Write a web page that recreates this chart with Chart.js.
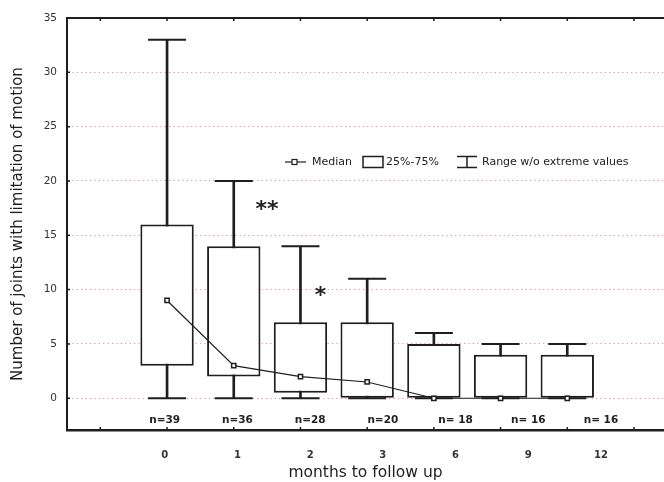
<!DOCTYPE html>
<html>
<head>
<meta charset="utf-8">
<script src="https://cdn.jsdelivr.net/npm/chart.js@4/dist/chart.umd.min.js"></script>
<style>
  html, body { margin: 0; padding: 0; background: #fff; overflow: hidden; }
  #wrap { width: 664px; height: 482px; }
</style>
</head>
<body>
<div id="wrap"><canvas id="box" width="664" height="482"></canvas></div>
<script>
"use strict";

// months of follow-up and the box statistics
const MONTHS = ["0", "1", "2", "3", "6", "9", "12"];
const N_LABELS = ["n=39", "n=36", "n=28", "n=20", "n= 18", "n= 16", "n= 16"];
const MEDIAN = [9, 3, 2, 1.5, 0, 0, 0];
const Q1 = [3, 2, 0.5, 0, 0, 0, 0];
const Q3 = [16, 14, 7, 7, 5, 4, 4];
const WHISK_MIN = [0, 0, 0, 0, 0, 0, 0];
const WHISK_MAX = [33, 20, 14, 11, 6, 5, 5];
const Y_TICKS = [0, 5, 10, 15, 20, 25, 30, 35];
// significance marks: between-visit position and height on the y scale
const SIG_MARKS = [
  { x: 1.5, y: 17.3, text: "**" },
  { x: 2.3, y: 9.4, text: "*" },
];

const FONT = "'DejaVu Sans', sans-serif";
const INK = "#1e1e1e";

const pts = arr => arr.map((v, i) => ({ x: i, y: v }));

const frame = {
  id: "frame",
  afterDraw(chart) {
    const { ctx, chartArea: a, scales } = chart;
    const x = scales.x, y = scales.y, xl = scales.xl;
    ctx.save();
    ctx.strokeStyle = INK;
    ctx.lineWidth = 2;
    // top border
    ctx.beginPath();
    ctx.moveTo(a.left, a.top);
    ctx.lineTo(a.right, a.top);
    ctx.stroke();
    // inward ticks
    ctx.lineWidth = 1.5;
    ctx.beginPath();
    for (let i = -1; i <= 7; i++) {
      const px = x.getPixelForValue(i);
      if (px <= a.left + 2 || px >= a.right) continue;
      ctx.moveTo(px, a.top); ctx.lineTo(px, a.top + 3);
      ctx.moveTo(px, a.bottom); ctx.lineTo(px, a.bottom - 3);
    }
    Y_TICKS.forEach(v => {
      const py = y.getPixelForValue(v);
      ctx.moveTo(a.left, py); ctx.lineTo(a.left + 3, py);
    });
    ctx.stroke();

    // n= labels
    ctx.fillStyle = "#222";
    ctx.font = "bold 10.5px " + FONT;
    ctx.textAlign = "center";
    ctx.textBaseline = "middle";
    N_LABELS.forEach((t, i) => ctx.fillText(t, xl.getPixelForValue(i), a.bottom - 10));

    // significance stars
    ctx.font = "bold 22px " + FONT;
    SIG_MARKS.forEach(m => ctx.fillText(m.text, x.getPixelForValue(m.x), y.getPixelForValue(m.y)));

    // legend
    const ly = 162;
    ctx.font = "11px " + FONT;
    ctx.textAlign = "left";
    ctx.lineWidth = 1.2;
    ctx.beginPath();
    ctx.moveTo(285, ly); ctx.lineTo(306, ly);
    ctx.stroke();
    ctx.fillStyle = "#fff";
    ctx.fillRect(292, ly - 2.5, 5, 5);
    ctx.strokeRect(292, ly - 2.5, 5, 5);
    ctx.fillStyle = "#222";
    ctx.fillText("Median", 312, ly);
    ctx.lineWidth = 1.5;
    ctx.strokeRect(363, ly - 5.5, 20, 11);
    ctx.fillText("25%-75%", 386, ly);
    ctx.beginPath();
    ctx.moveTo(457, ly - 5.5); ctx.lineTo(477, ly - 5.5);
    ctx.moveTo(457, ly + 5.5); ctx.lineTo(477, ly + 5.5);
    ctx.moveTo(467, ly - 5.5); ctx.lineTo(467, ly + 5.5);
    ctx.stroke();
    ctx.fillText("Range w/o extreme values", 482, ly);
    ctx.restore();
  },
};

new Chart(document.getElementById("box"), {
  type: "bar",
  data: {
    datasets: [
      {
        type: "line",
        label: "Median",
        data: pts(MEDIAN),
        borderColor: INK,
        borderWidth: 1.2,
        pointStyle: "rect",
        pointRadius: 3,
        pointBackgroundColor: "#fff",
        pointBorderColor: INK,
        pointBorderWidth: 1.5,
        order: 0,
      },
      {
        type: "scatter",
        label: "max",
        data: pts(WHISK_MAX),
        pointStyle: "line",
        pointRadius: 19,
        borderColor: INK,
        borderWidth: 2,
        order: 1,
      },
      {
        type: "scatter",
        label: "min",
        data: pts(WHISK_MIN),
        pointStyle: "line",
        pointRadius: 19,
        borderColor: INK,
        borderWidth: 2,
        order: 1,
      },
      {
        label: "25%-75%",
        data: Q1.map((q, i) => ({ x: i, y: [q, Q3[i]] })),
        backgroundColor: "#fff",
        borderColor: INK,
        borderWidth: 2,
        borderSkipped: false,
        barPercentage: 0.8,
        categoryPercentage: 1,
        grouped: false,
        order: 2,
      },
      {
        label: "range",
        data: WHISK_MIN.map((m, i) => ({ x: i, y: [m, WHISK_MAX[i]] })),
        backgroundColor: INK,
        borderWidth: 0,
        barThickness: 2,
        grouped: false,
        order: 3,
      },
    ],
  },
  options: {
    responsive: false,
    devicePixelRatio: 1,
    animation: false,
    events: [],
    layout: { autoPadding: false, padding: { top: 18, right: 0, left: 0, bottom: 0 } },
    plugins: { legend: { display: false }, tooltip: { enabled: false } },
    scales: {
      x: {
        type: "linear",
        display: false,
        offset: false,
        min: -1.5,
        max: 7.45,
      },
      xl: {
        type: "linear",
        position: "bottom",
        offset: false,
        min: -1.344,
        max: 6.867,
        afterBuildTicks: s => { s.ticks = MONTHS.map((m, i) => ({ value: i })); },
        afterFit: s => { s.height = 52; s.paddingRight = 0; s.paddingLeft = 0; },
        grid: { drawOnChartArea: false, drawTicks: false, offset: false },
        border: { display: true, color: INK, width: 2.5 },
        ticks: {
          callback: v => MONTHS[v],
          font: { family: FONT, size: 10, weight: "bold" },
          color: "#333",
          padding: 19,
          maxRotation: 0,
        },
        title: {
          display: true,
          text: "months to follow up",
          font: { family: FONT, size: 15.5 },
          color: INK,
          padding: { top: 0, bottom: 0 },
        },
      },
      y: {
        min: -2.92,
        max: 35,
        afterBuildTicks: s => { s.ticks = Y_TICKS.map(v => ({ value: v })); },
        afterFit: s => { s.width = 67; },
        grid: {
          drawTicks: false,
          color: c => (c.tick && c.tick.value === 35 ? "rgba(0,0,0,0)" : "rgba(215,130,130,0.85)"),
          lineWidth: 1,
        },
        border: { display: true, color: INK, width: 2, dash: [1.2, 3.2] },
        ticks: {
          font: { family: FONT, size: 10.5 },
          color: "#333",
          padding: 10,
        },
        title: {
          display: true,
          text: "Number of joints with limitation of motion",
          font: { family: FONT, size: 15 },
          color: INK,
          padding: { top: 9, bottom: 0 },
        },
      },
    },
  },
  plugins: [frame],
});
</script>
</body>
</html>
